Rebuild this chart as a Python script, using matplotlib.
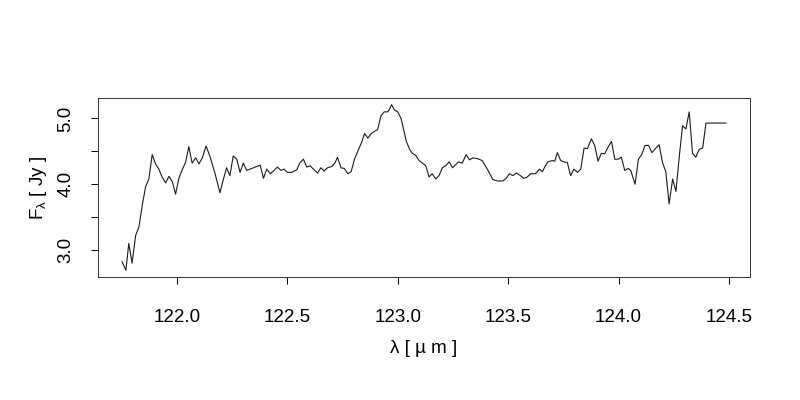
import matplotlib
matplotlib.use("Agg")
import matplotlib.pyplot as plt

plt.rcParams['font.family'] = ['Liberation Sans', 'DejaVu Sans']

# espectro
wavelength = [
    121.752, 121.769, 121.782, 121.797, 121.813, 121.828, 121.843, 121.858, 121.873, 121.888,
    121.903, 121.918, 121.933, 121.949, 121.964, 121.979, 121.994, 122.009, 122.024, 122.039,
    122.054, 122.069, 122.085, 122.100, 122.115, 122.132, 122.150, 122.172, 122.195, 122.210,
    122.225, 122.240, 122.255, 122.271, 122.286, 122.301, 122.316, 122.339, 122.362, 122.377,
    122.392, 122.407, 122.422, 122.437, 122.455, 122.471, 122.485, 122.500, 122.520, 122.543,
    122.558, 122.573, 122.588, 122.603, 122.618, 122.637, 122.652, 122.667, 122.682, 122.702,
    122.717, 122.727, 122.743, 122.758, 122.774, 122.789, 122.804, 122.823, 122.838, 122.850,
    122.865, 122.880, 122.898, 122.909, 122.924, 122.939, 122.954, 122.963, 122.972, 122.985,
    123.000, 123.015, 123.027, 123.039, 123.054, 123.066, 123.081, 123.097, 123.112, 123.127,
    123.142, 123.156, 123.172, 123.187, 123.202, 123.217, 123.233, 123.248, 123.263, 123.276,
    123.292, 123.310, 123.325, 123.340, 123.360, 123.382, 123.397, 123.412, 123.431, 123.451,
    123.476, 123.491, 123.506, 123.521, 123.537, 123.556, 123.571, 123.587, 123.602, 123.624,
    123.642, 123.655, 123.667, 123.680, 123.700, 123.711, 123.723, 123.738, 123.753, 123.768,
    123.783, 123.798, 123.814, 123.829, 123.844, 123.859, 123.877, 123.892, 123.907, 123.922,
    123.937, 123.952, 123.968, 123.983, 123.998, 124.013, 124.028, 124.043, 124.055, 124.075,
    124.090, 124.105, 124.120, 124.136, 124.151, 124.169, 124.184, 124.199, 124.214, 124.229,
    124.245, 124.260, 124.275, 124.290, 124.305, 124.320, 124.335, 124.350, 124.365, 124.381,
    124.396, 124.486,
]
flux = [
    2.82, 2.69, 3.10, 2.80, 3.22, 3.35, 3.68, 3.96, 4.08, 4.45,
    4.31, 4.23, 4.11, 4.02, 4.12, 4.04, 3.85, 4.09, 4.22, 4.33,
    4.57, 4.32, 4.40, 4.31, 4.40, 4.58, 4.42, 4.17, 3.87, 4.07,
    4.25, 4.13, 4.43, 4.38, 4.18, 4.32, 4.21, 4.24, 4.27, 4.29,
    4.09, 4.23, 4.16, 4.20, 4.26, 4.21, 4.23, 4.18, 4.18, 4.22,
    4.33, 4.38, 4.26, 4.28, 4.23, 4.17, 4.25, 4.20, 4.25, 4.27,
    4.33, 4.41, 4.25, 4.24, 4.16, 4.19, 4.38, 4.53, 4.65, 4.77,
    4.70, 4.77, 4.81, 4.83, 5.04, 5.10, 5.10, 5.14, 5.21, 5.13,
    5.10, 5.00, 4.83, 4.65, 4.53, 4.47, 4.44, 4.36, 4.32, 4.28,
    4.11, 4.16, 4.08, 4.13, 4.25, 4.28, 4.34, 4.25, 4.30, 4.34,
    4.32, 4.45, 4.37, 4.40, 4.39, 4.36, 4.28, 4.19, 4.07, 4.05,
    4.05, 4.09, 4.16, 4.13, 4.17, 4.13, 4.09, 4.11, 4.16, 4.16,
    4.23, 4.19, 4.27, 4.34, 4.36, 4.35, 4.48, 4.36, 4.34, 4.33,
    4.13, 4.23, 4.18, 4.23, 4.55, 4.54, 4.69, 4.59, 4.35, 4.47,
    4.46, 4.56, 4.65, 4.38, 4.38, 4.41, 4.21, 4.24, 4.21, 4.00,
    4.38, 4.45, 4.59, 4.59, 4.48, 4.55, 4.60, 4.33, 4.19, 3.70,
    4.08, 3.89, 4.42, 4.89, 4.84, 5.10, 4.47, 4.41, 4.53, 4.55,
    4.93, 4.93,
]
x_ticks = [122.0, 122.5, 123.0, 123.5, 124.0, 124.5]
y_ticks = [3.0, 3.5, 4.0, 4.5, 5.0]
y_tick_labels = ['3.0', '', '4.0', '', '5.0']

fig = plt.figure(figsize=(8, 4), dpi=100)
ax = fig.add_axes([0.1225, 0.3075, 0.815, 0.4475])
ax.plot(wavelength, flux, color='#1a1a1a', linewidth=0.8)
ax.margins(x=0.04, y=0.04)

ax.set_xticks(x_ticks)
ax.set_xticklabels(['%.1f' % t for t in x_ticks])
ax.set_yticks(y_ticks)
ax.set_yticklabels(y_tick_labels, rotation=90, va='center')
ax.tick_params(direction='out', length=5, width=0.7, labelsize=13.5)
ax.tick_params(axis='y', pad=12)
ax.tick_params(axis='x', pad=18)

for s in ax.spines.values():
    s.set_linewidth(0.7)
    s.set_color('#333333')

ax.set_xlabel('λ [ µ m ]', fontsize=13.5, labelpad=10)
ax.set_ylabel(r'F$_\mathregular{λ}$ [ Jy ]', fontsize=13.5, labelpad=6)

fig.savefig('out.png', dpi=100)
